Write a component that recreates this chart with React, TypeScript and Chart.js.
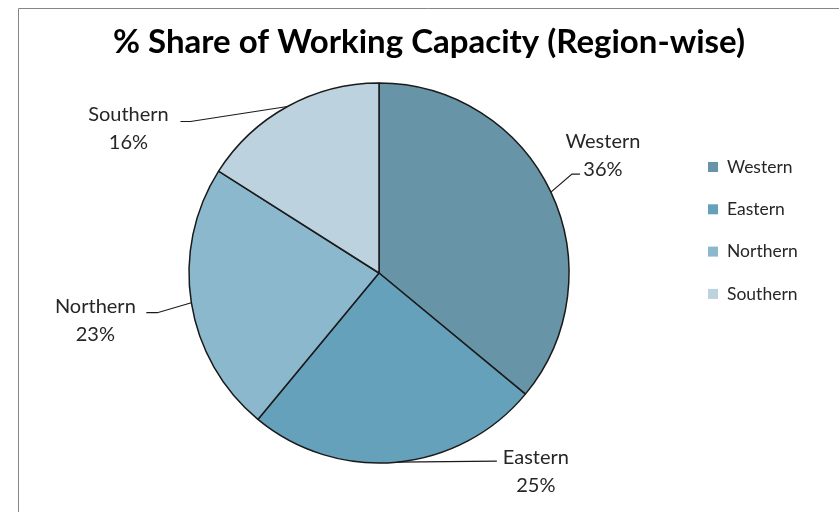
import React, { useEffect, useRef } from 'react';
import { Chart, registerables } from 'chart.js';

Chart.register(...registerables);

const categories = ['Western', 'Eastern', 'Northern', 'Southern'];
const shares = [36, 25, 23, 16];
const colors = ['#6794a7', '#65a1bb', '#8cb8ce', '#bcd2de'];
const chartTitle = '% Share of Working Capacity (Region-wise)';

// label placement relative to the slice's rim midpoint (text centre, elbow, end of leader line)
const labelPlacement = [
  { tx: 52, ty: -51, ex: 21, ey: -18, hx: 29 },
  { tx: 139, ty: -5, ex: 100, ey: -1, hx: 100 },
  { tx: -96, ty: 4, ex: -34, ey: 10, hx: -45 },
  { tx: -159, ty: 8, ex: -97, ey: 15, hx: -107 },
];

const FONT = 'Lato, "Open Sans", sans-serif';
const TEXT = '#262626';

const decorPlugin = {
  id: 'decor',
  afterDraw(chart: any) {
    const ctx = chart.ctx as CanvasRenderingContext2D;
    ctx.save();
    // frame
    ctx.strokeStyle = '#868686';
    ctx.lineWidth = 1;
    ctx.beginPath();
    ctx.moveTo(18.5, 512);
    ctx.lineTo(18.5, 8.5);
    ctx.lineTo(839, 8.5);
    ctx.stroke();

    // title
    ctx.fillStyle = '#000';
    ctx.font = `bold 33px ${FONT}`;
    ctx.textAlign = 'center';
    ctx.textBaseline = 'middle';
    ctx.fillText(chartTitle, 429, 42);

    // data labels
    const meta = chart.getDatasetMeta(0);
    const total = shares.reduce((a, b) => a + b, 0);
    meta.data.forEach((arc: any, i: number) => {
      const mid = (arc.startAngle + arc.endAngle) / 2;
      const px = arc.x + Math.cos(mid) * arc.outerRadius;
      const py = arc.y + Math.sin(mid) * arc.outerRadius;
      const p = labelPlacement[i];
      ctx.strokeStyle = '#1a1a1a';
      ctx.lineWidth = 1.2;
      ctx.beginPath();
      ctx.moveTo(px, py);
      ctx.lineTo(px + p.ex, py + p.ey);
      ctx.lineTo(px + p.hx, py + p.ey);
      ctx.stroke();
      ctx.fillStyle = TEXT;
      ctx.font = `20px ${FONT}`;
      ctx.textAlign = 'center';
      ctx.textBaseline = 'middle';
      ctx.fillText(categories[i], px + p.tx, py + p.ty);
      ctx.fillText(Math.round((shares[i] / total) * 100) + '%', px + p.tx, py + p.ty + 28);
    });

    // legend
    ctx.font = `17.5px ${FONT}`;
    ctx.textAlign = 'left';
    categories.forEach((c, i) => {
      const y = 167 + i * 42.3;
      ctx.fillStyle = colors[i];
      ctx.fillRect(708, y - 5, 10, 10);
      ctx.fillStyle = TEXT;
      ctx.fillText(c, 727, y);
    });
    ctx.restore();
  },
};

export default function App() {
  const ref = useRef<HTMLCanvasElement>(null);
  useEffect(() => {
    if (!ref.current) return;
    const chart = new Chart(ref.current, {
      type: 'pie',
      data: {
        labels: categories,
        datasets: [
          {
            data: shares,
            backgroundColor: colors,
            borderColor: '#1a1a1a',
            borderWidth: 1.5,
          },
        ],
      },
      options: {
        responsive: false,
        animation: false,
        radius: 190,
        layout: { padding: { left: 0, right: 81, top: 34, bottom: 0 } },
        plugins: {
          legend: { display: false },
          title: { display: false },
          tooltip: { enabled: false },
        },
      },
      plugins: [decorPlugin],
    });
    return () => chart.destroy();
  }, []);
  return (
    <div style={{ position: 'absolute', left: 0, top: 0, width: 839, height: 512, background: '#fff' }}>
      <canvas ref={ref} width={839} height={512} />
    </div>
  );
}
